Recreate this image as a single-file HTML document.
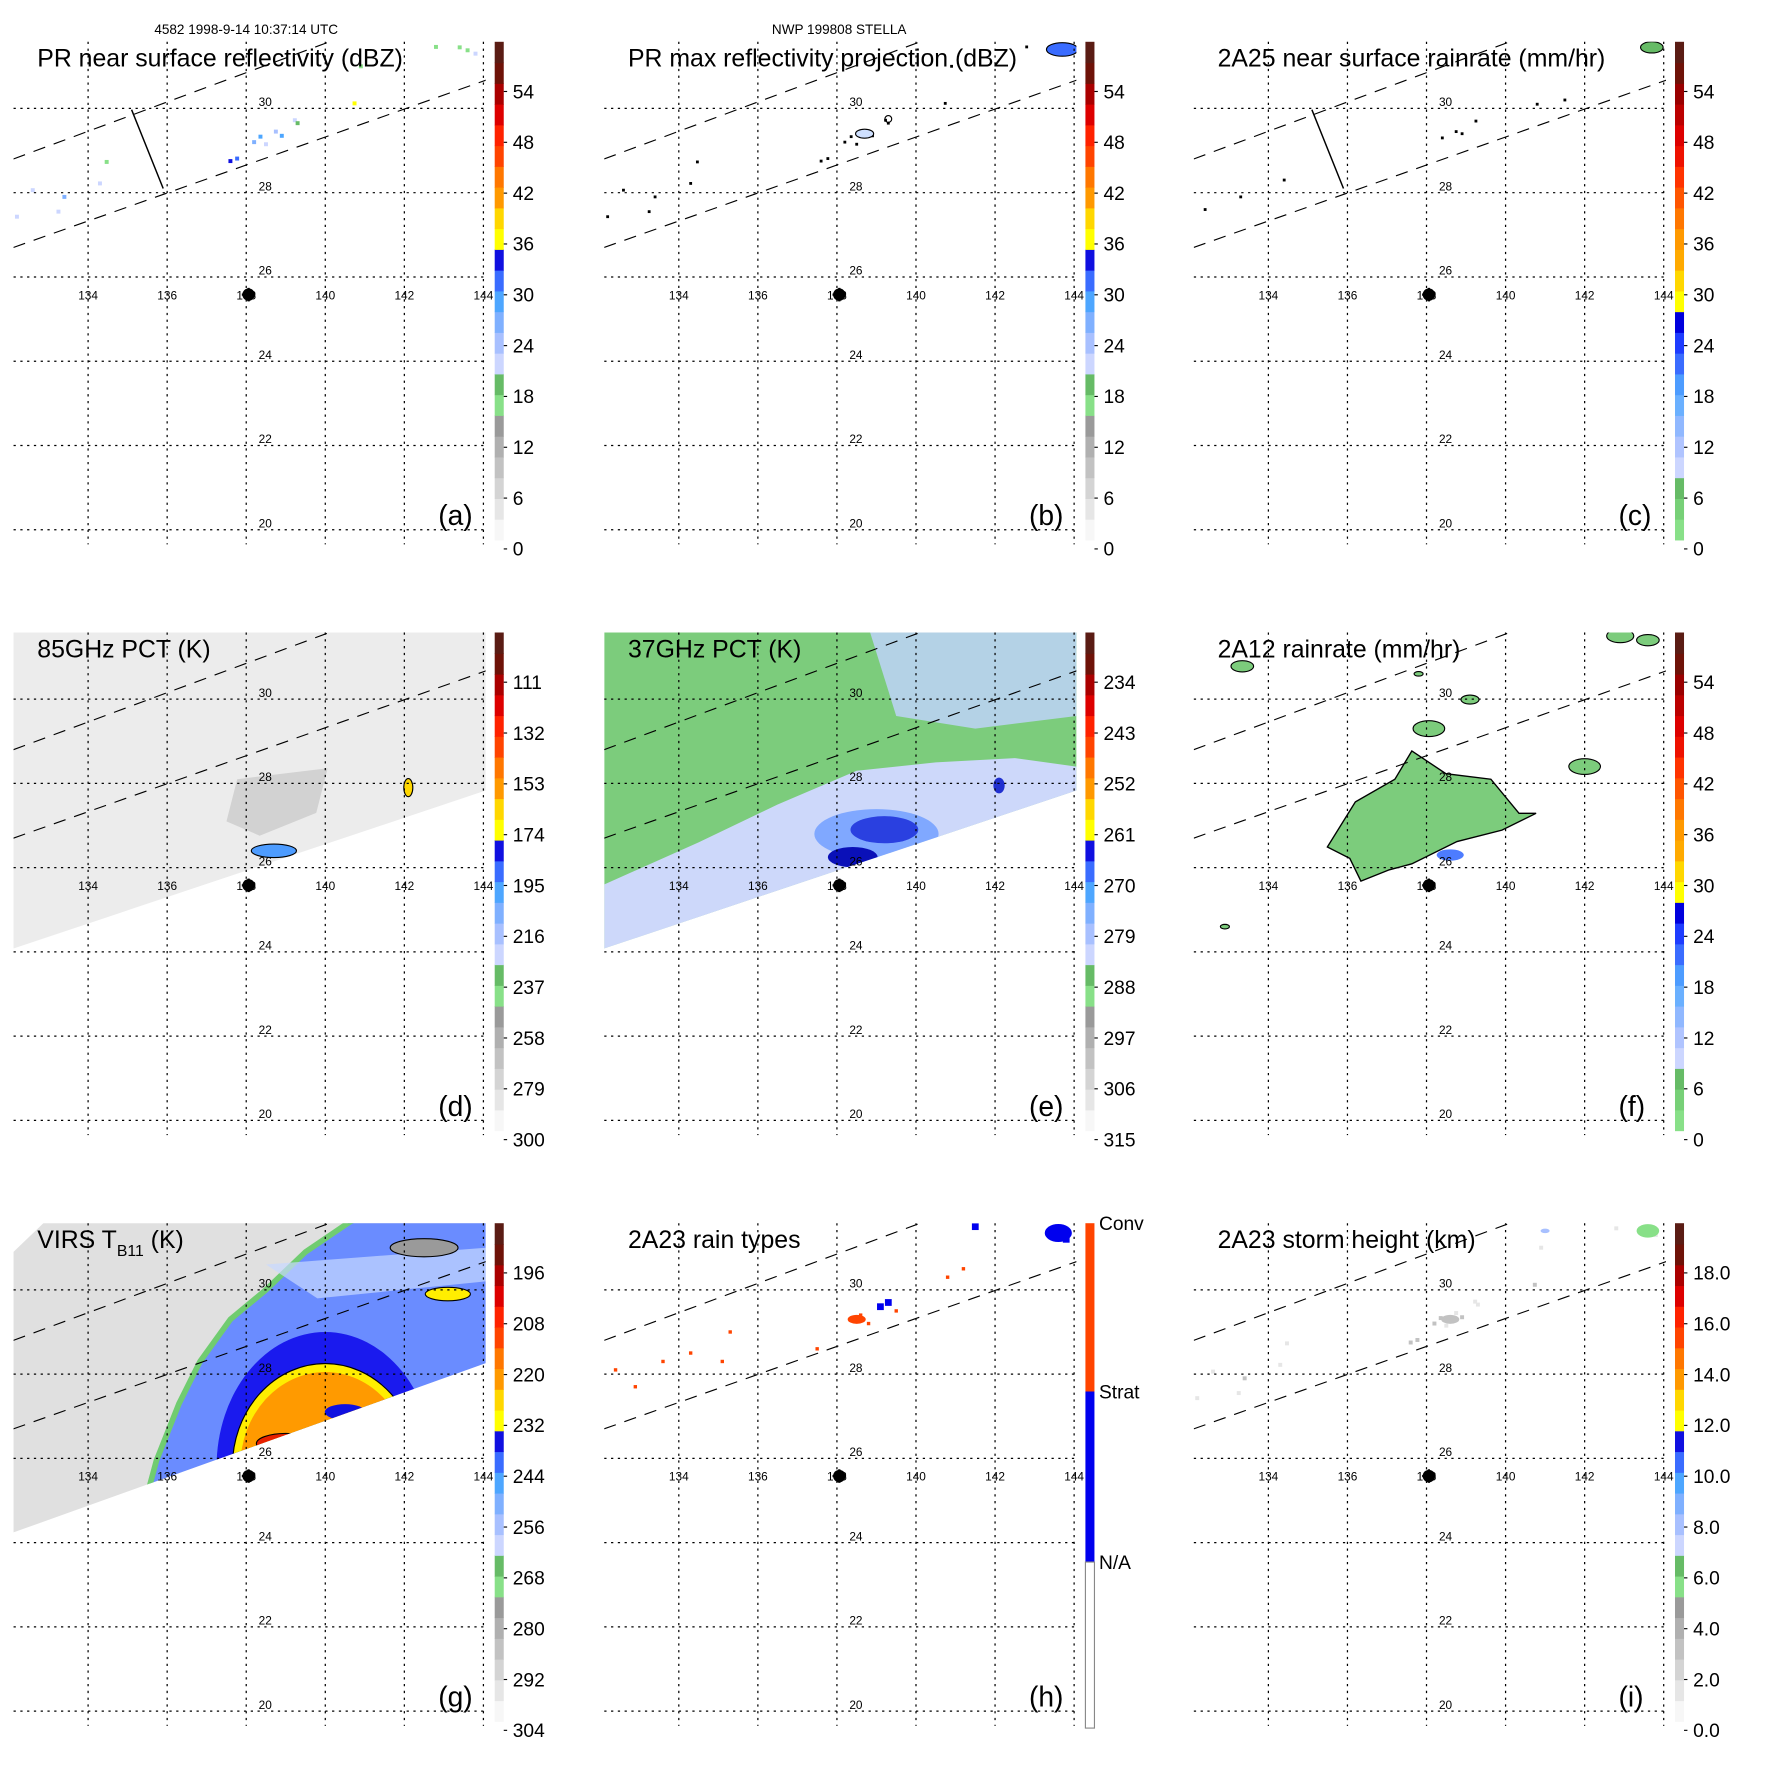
<!DOCTYPE html>
<html><head><meta charset="utf-8"><style>
html,body{margin:0;padding:0;background:#fff;}
svg{display:block;}
text{font-family:"Liberation Sans",sans-serif;fill:#000;}
</style></head><body>
<svg id="fig" xmlns="http://www.w3.org/2000/svg" width="1771" height="1771" viewBox="0 0 1568 1568">
<defs></defs>
<text x="218" y="30" font-size="12" text-anchor="middle">4582 1998-9-14 10:37:14 UTC</text>
<text x="743" y="30" font-size="12" text-anchor="middle">NWP 199808 STELLA</text>
</svg>
<script>
// ---- data arrays ----
const lonTicks = [134,136,138,140,142,144];
const latTicks = [30,28,26,24,22,20];
const panelTitles = ["PR near surface reflectivity (dBZ)","PR max reflectivity projection (dBZ)","2A25 near surface rainrate (mm/hr)","85GHz PCT (K)","37GHz PCT (K)","2A12 rainrate (mm/hr)","VIRS","2A23 rain types","2A23 storm height (km)"];
const panelLetters = ["(a)","(b)","(c)","(d)","(e)","(f)","(g)","(h)","(i)"];
const cbLabelsA = ["0","6","12","18","24","30","36","42","48","54"];
const cbLabelsD = ["300","279","258","237","216","195","174","153","132","111"];
const cbLabelsE = ["315","306","297","288","279","270","261","252","243","234"];
const cbLabelsG = ["304","292","280","268","256","244","232","220","208","196"];
const cbLabelsI = ["0.0","2.0","4.0","6.0","8.0","10.0","12.0","14.0","16.0","18.0"];
const rainTypeLabels = ["Conv","Strat","N/A"];
const schemeA = ["#f7f7f7","#e6e6e6","#d4d4d4","#c2c2c2","#b0b0b0","#9a9a9a","#88e088","#66bb66","#ccd6ff","#a8c0ff","#7fb0ff","#4da6ff","#3a6cff","#1010e0","#ffff00","#ffd700","#ff9900","#ff7700","#ff4400","#ff2200","#dd0000","#aa0000","#6e1208","#5a1c14"];
const schemeC = ["#88e088","#77d077","#66bb66","#ccd6ff","#b0c4ff","#90b8ff","#6ab0ff","#4d9cff","#3a6cff","#1e3cff","#0000dd","#ffff00","#ffd700","#ffaa00","#ff9900","#ff7700","#ff5500","#ff3300","#ee1100","#dd0000","#bb0000","#990000","#6e1208","#5a1c14"];
// swath geometry (lon, lat)
const prSwathUpper = [[132.11,28.8],[140.1,31.58]];
const prSwathLower = [[132.11,26.7],[144.06,30.67]];
const scanLine = [[135.1,29.97],[135.9,28.1]];
const tmiSwath = [[132.11,31.7],[144.06,31.7],[144.06,27.83],[132.11,24.08]];
const virsSwath = [[132.11,30.9],[133.0,31.7],[144.06,31.7],[144.06,28.26],[132.11,24.24]];
const center = [138.06,25.58];
// PR near surface reflectivity points [lon,lat,dBZ]
const prLon = [138.36,138.5,138.75,138.9,139.23,139.3,137.77,137.6,140.74,143.6,143.8,143.4,142.8,132.6,132.2,134.3,133.4,133.25,134.47,138.2,140.9];
const prLat = [29.33,29.15,29.45,29.35,29.72,29.65,28.81,28.75,30.12,31.38,31.3,31.45,31.46,28.06,27.43,28.22,27.9,27.55,28.73,29.2,31.0];
const prVal = [28,22,24,29,22,18,30,34,36,16,22,15,16,22,22,21,26,21,16,27,15];
// 2A25 rain [lon,lat] small contour blobs
const rrLon = [138.4,138.75,139.25,138.9,140.8,141.5,143.6,133.3,134.4,132.4];
const rrLat = [29.3,29.45,29.7,29.4,30.1,30.2,31.4,27.9,28.3,27.6];
// 2A12 rain polygon
const a12Lon = [135.49,136.2,137.2,137.63,138.49,139.63,140.34,140.77,139.91,138.77,137.63,137.06,136.34,136.06];
const a12Lat = [26.49,27.56,28.1,28.77,28.23,28.1,27.29,27.29,26.89,26.62,26.09,25.95,25.68,26.22];
const a12BlobLon = [138.06,133.34,139.1,142.0,142.9,143.6,132.9,137.8];
const a12BlobLat = [29.3,30.78,29.99,28.4,31.5,31.4,24.6,30.6];
const a12BlobR = [14,10,8,14,12,10,4,4];
// VIRS storm
const virsEdgeLon = [135.4,135.73,136.3,136.83,137.6,138.5,139.5,140.6,141.0];
const virsEdgeLat = [24.8,25.95,27.3,28.3,29.3,30.0,30.9,31.6,31.8];
const ringRx = [2.75,2.35,2.15];
const ringRy = [3.2,2.45,2.25];
const ringCol = ["#1a1aee","#ffee00","#ff9a00"];
const virsCenter = [140.0,25.8];
// rain types
const convLon = [132.4,132.9,133.6,134.3,135.3,135.1,137.5,138.4,138.6,138.8,139.5,140.8,141.2];
const convLat = [28.1,27.7,28.3,28.5,29.0,28.3,28.6,29.3,29.4,29.2,29.5,30.3,30.5];
const stratLon = [143.5,143.8,141.5,139.3,139.1];
const stratLat = [31.4,31.2,31.5,29.7,29.6];

const colX = [0,523,1045], rowY = [0,523,1046];
const SVGNS = "http://www.w3.org/2000/svg";
const svg = document.getElementById('fig');
function el(tag, attrs, parent){ const e=document.createElementNS(SVGNS,tag); for(const k in attrs) e.setAttribute(k,attrs[k]); (parent||svg).appendChild(e); return e; }
function X(lon,p){ return colX[p%3] + 78 + (lon-134)*35; }
function Y(lat,p){ return rowY[Math.floor(p/3)] + 96 + (30-lat)*37.3; }
function pts(arr,p){ return arr.map(a=>X(a[0],p).toFixed(1)+','+Y(a[1],p).toFixed(1)).join(' '); }
function colorFor(v,scheme){ const i=Math.max(0,Math.min(23,Math.floor(v/60*24))); return scheme[i]; }

function drawPanel(p){
  const ox=colX[p%3], oy=rowY[Math.floor(p/3)];
  const g=el('g',{});
  
  
  const cp=el('clipPath',{id:'clip'+p},svg.querySelector('defs'));
  el('rect',{x:ox+12,y:oy+37,width:418,height:443},cp);
  const field=el('g',{'clip-path':'url(#clip'+p+')'},g);
  
  
  return {g,field,ox,oy};
}
function drawOverlay(P,p){
  const {g,ox,oy}=P;
  const grid=el('g',{stroke:'#000','stroke-width':1.1,'stroke-dasharray':'2,4',fill:'none'},g);
  
  
  lonTicks.forEach(l=>{ const x=X(l,p); el('line',{x1:x,y1:oy+37,x2:x,y2:oy+482},grid); });
  latTicks.forEach(l=>{ const y=Y(l,p); el('line',{x1:ox+12,y1:y,x2:ox+431,y2:y},grid); });
  const sw=el('g',{stroke:'#000','stroke-width':1,'stroke-dasharray':'11,8',fill:'none','clip-path':'url(#clip'+p+')'},g);
  
  
  [prSwathUpper,prSwathLower].forEach(s=>{
    const l0=s[0],l1=s[1],k=(l1[1]-l0[1])/(l1[0]-l0[0]);
    el('line',{x1:X(132.11,p),y1:Y(l0[1],p),x2:X(145,p),y2:Y(l0[1]+k*(145-l0[0]),p)},sw);
  });
  lonTicks.forEach(l=>{ const t=el('text',{x:X(l,p),y:oy+265,'font-size':10.5,'text-anchor':'middle'},g); t.textContent=l;
      });
  latTicks.forEach(l=>{ const t=el('text',{x:ox+229,y:Y(l,p)-2,'font-size':10.5},g); t.textContent=l;
      });
  const m=el('g',{},g);
  
  
  el('circle',{cx:X(center[0],p),cy:Y(center[1],p),r:5.5,fill:'#000'},m);
  el('line',{x1:X(center[0],p)-6,y1:Y(center[1],p),x2:X(center[0],p)+6,y2:Y(center[1],p),stroke:'#000','stroke-width':2},m);
  el('line',{x1:X(center[0],p),y1:Y(center[1],p)-6,x2:X(center[0],p),y2:Y(center[1],p)+6,stroke:'#000','stroke-width':2},m);
  let t;
  if(p===6){
    t=el('text',{x:ox+33,y:oy+59,'font-size':22},g);
    t.innerHTML='VIRS T<tspan font-size="14" dy="7">B11</tspan><tspan dy="-7"> (K)</tspan>';
  } else {
    t=el('text',{x:ox+33,y:oy+59,'font-size':22},g); t.textContent=panelTitles[p];
  }
   
  const lt=el('text',{x:ox+388,y:oy+465,'font-size':25},g); lt.textContent=panelLetters[p];
   
}
function drawColorbar(P,scheme,labels){
  const {g,ox,oy}=P;
  const cb=el('g',{},g);
  
  
  const h=(478-37)/scheme.length;
  scheme.forEach((c,i)=>{ el('rect',{x:ox+438,y:oy+478-(i+1)*h,width:8,height:h+0.5,fill:c},cb); });
  labels.forEach((s,i)=>{ const y=oy+486-45*i;
    el('line',{x1:ox+446,y1:y,x2:ox+449,y2:y,stroke:'#000'},cb);
    const t=el('text',{x:ox+454,y:y+6,'font-size':17},cb); t.textContent=s;
      });
}
function dots(field,p,lons,lats,cols,size){
  lons.forEach((lo,i)=>{ const s=size||3; el('rect',{x:X(lo,p)-s/2,y:Y(lats[i],p)-s/2,width:s,height:s,fill:cols[i]},field); });
}

// (a)
let P=drawPanel(0);
dots(P.field,0,prLon,prLat,prVal.map(v=>colorFor(v,schemeA)),3.5);
el('line',{x1:X(scanLine[0][0],0),y1:Y(scanLine[0][1],0),x2:X(scanLine[1][0],0),y2:Y(scanLine[1][1],0),stroke:'#000','stroke-width':1.3},P.field);
drawOverlay(P,0); drawColorbar(P,schemeA,cbLabelsA);
// (b)
P=drawPanel(1);
dots(P.field,1,prLon,prLat,prVal.map(v=>'#000'),2.5);
el('ellipse',{cx:X(143.7,1),cy:Y(31.4,1),rx:14,ry:6,fill:'#3a6cff',stroke:'#000'},P.field);
el('ellipse',{cx:X(138.7,1),cy:Y(29.4,1),rx:8,ry:4,fill:'#cfe0ff',stroke:'#000'},P.field);
el('ellipse',{cx:X(139.3,1),cy:Y(29.75,1),rx:3,ry:3,fill:'none',stroke:'#000'},P.field);
drawOverlay(P,1); drawColorbar(P,schemeA,cbLabelsA);
// (c)
P=drawPanel(2);
dots(P.field,2,rrLon,rrLat,rrLon.map(v=>'#000'),2.5);
el('ellipse',{cx:X(143.7,2),cy:Y(31.45,2),rx:10,ry:5,fill:'#66bb66',stroke:'#000'},P.field);
el('line',{x1:X(scanLine[0][0],2),y1:Y(scanLine[0][1],2),x2:X(scanLine[1][0],2),y2:Y(scanLine[1][1],2),stroke:'#000','stroke-width':1.3},P.field);
drawOverlay(P,2); drawColorbar(P,schemeC,cbLabelsA);
// (d)
P=drawPanel(3);
el('polygon',{points:pts(tmiSwath,3),fill:'#ececec'},P.field);
el('polygon',{points:pts([[137.77,28.1],[140.06,28.36],[139.77,27.3],[138.34,26.76],[137.5,27.1]],3),fill:'#d2d2d2'},P.field);
el('ellipse',{cx:X(138.7,3),cy:Y(26.4,3),rx:20,ry:6,fill:'#4d9cff',stroke:'#000'},P.field);
el('ellipse',{cx:X(142.1,3),cy:Y(27.9,3),rx:4,ry:8,fill:'#ffd700',stroke:'#000'},P.field);
drawOverlay(P,3); drawColorbar(P,schemeA,cbLabelsD);
// (e)
P=drawPanel(4);
const eclip=el('clipPath',{id:'eclip'},svg.querySelector('defs'));
el('polygon',{points:pts(tmiSwath,4)},eclip);
const eg=el('g',{'clip-path':'url(#eclip)'},P.field);
el('polygon',{points:pts(tmiSwath,4),fill:'#7ccc7c'},eg);
el('polygon',{points:pts([[132.11,23.0],[132.11,25.6],[134.5,26.6],[136.5,27.5],[138.5,28.3],[140.5,28.5],[142.5,28.6],[144.06,28.4],[144.06,27.0]],4),fill:'#cdd8fa'},eg);
el('polygon',{points:pts([[138.8,31.7],[144.06,31.7],[144.06,29.6],[141.5,29.3],[139.5,29.6]],4),fill:'#b4d2e6'},eg);
el('ellipse',{cx:X(139.0,4),cy:Y(26.8,4),rx:55,ry:22,fill:'#80a8ff'},eg);
el('ellipse',{cx:X(139.2,4),cy:Y(26.9,4),rx:30,ry:12,fill:'#2a40e0'},eg);
el('ellipse',{cx:X(138.4,4),cy:Y(26.25,4),rx:22,ry:9,fill:'#0a10b8'},eg);
el('ellipse',{cx:X(142.1,4),cy:Y(27.95,4),rx:5,ry:7,fill:'#2030d0'},eg);
drawOverlay(P,4); drawColorbar(P,schemeA,cbLabelsE);
// (f)
P=drawPanel(5);
el('polygon',{points:pts(a12Lon.map((l,i)=>[l,a12Lat[i]]),5),fill:'#7ccc7c',stroke:'#000','stroke-width':1.2},P.field);
el('ellipse',{cx:X(138.6,5),cy:Y(26.3,5),rx:12,ry:5,fill:'#4d7cff'},P.field);
a12BlobLon.forEach((l,i)=>{ el('ellipse',{cx:X(l,5),cy:Y(a12BlobLat[i],5),rx:a12BlobR[i],ry:a12BlobR[i]*0.5,fill:'#7ccc7c',stroke:'#000'},P.field); });
drawOverlay(P,5); drawColorbar(P,schemeC,cbLabelsA);
// (g)
P=drawPanel(6);
el('polygon',{points:pts(virsSwath,6),fill:'#e0e0e0'},P.field);
const vclip=el('clipPath',{id:'vclip'},svg.querySelector('defs'));
el('polygon',{points:pts(virsSwath,6)},vclip);
const vg=el('g',{'clip-path':'url(#vclip)'},P.field);
const edge=virsEdgeLon.map((l,i)=>[l,virsEdgeLat[i]]).concat([[145,32],[145,24]]);
el('polygon',{points:pts(edge,6),fill:'#6a8cff',stroke:'#70cc70','stroke-width':5},vg);
el('polygon',{points:pts([[138.5,30.6],[144.06,31.0],[144.06,30.2],[139.8,29.8]],6),fill:'#c8d8ff',opacity:0.7},vg);
el('ellipse',{cx:X(142.5,6),cy:Y(31.0,6),rx:30,ry:8,fill:'#9a9a9a',stroke:'#000'},vg);
el('ellipse',{cx:X(143.1,6),cy:Y(29.9,6),rx:20,ry:6,fill:'#ffee00',stroke:'#000'},vg);
ringRx.forEach((r,i)=>{ el('ellipse',{cx:X(virsCenter[0],6),cy:Y(virsCenter[1],6),rx:r*35,ry:ringRy[i]*37.3,fill:ringCol[i],stroke:i===1?'#000':'none'},vg); });
el('ellipse',{cx:X(140.5,6),cy:Y(27.1,6),rx:18,ry:7,fill:'#1010e0'},vg);
el('ellipse',{cx:X(139.0,6),cy:Y(26.35,6),rx:26,ry:9,fill:'#e82000',stroke:'#000'},vg);
drawOverlay(P,6); drawColorbar(P,schemeA,cbLabelsG);
// (h)
P=drawPanel(7);
dots(P.field,7,convLon,convLat,convLon.map(()=>'#ff4400'),3);
dots(P.field,7,stratLon,stratLat,stratLon.map(()=>'#0000ee'),6);
el('ellipse',{cx:X(143.6,7),cy:Y(31.35,7),rx:12,ry:8,fill:'#0000ee'},P.field);
el('ellipse',{cx:X(138.5,7),cy:Y(29.3,7),rx:8,ry:4,fill:'#ff4400'},P.field);
drawOverlay(P,7);
(function(){ const {g,ox,oy}=P; const cb=el('g',{},g);
   
  el('rect',{x:ox+438,y:oy+37,width:8,height:149,fill:'#ff4400'},cb);
  el('rect',{x:ox+438,y:oy+186,width:8,height:151,fill:'#0000ee'},cb);
  el('rect',{x:ox+438,y:oy+337,width:8,height:147,fill:'#fff',stroke:'#888'},cb);
  [37,186,337].forEach((y,i)=>{ const t=el('text',{x:ox+450,y:oy+y+6,'font-size':17},cb); t.textContent=rainTypeLabels[i];
      });
})();
// (i)
P=drawPanel(8);
dots(P.field,8,prLon,prLat,prVal.map(v=>v>25?'#c2c2c2':'#e6e6e6'),3.5);
el('ellipse',{cx:X(143.6,8),cy:Y(31.4,8),rx:10,ry:6,fill:'#88e088'},P.field);
el('ellipse',{cx:X(138.6,8),cy:Y(29.3,8),rx:8,ry:4,fill:'#c2c2c2'},P.field);
el('ellipse',{cx:X(141.0,8),cy:Y(31.4,8),rx:4,ry:2,fill:'#a8c0ff'},P.field);
drawOverlay(P,8); drawColorbar(P,schemeA,cbLabelsI);
</script>
</body></html>
